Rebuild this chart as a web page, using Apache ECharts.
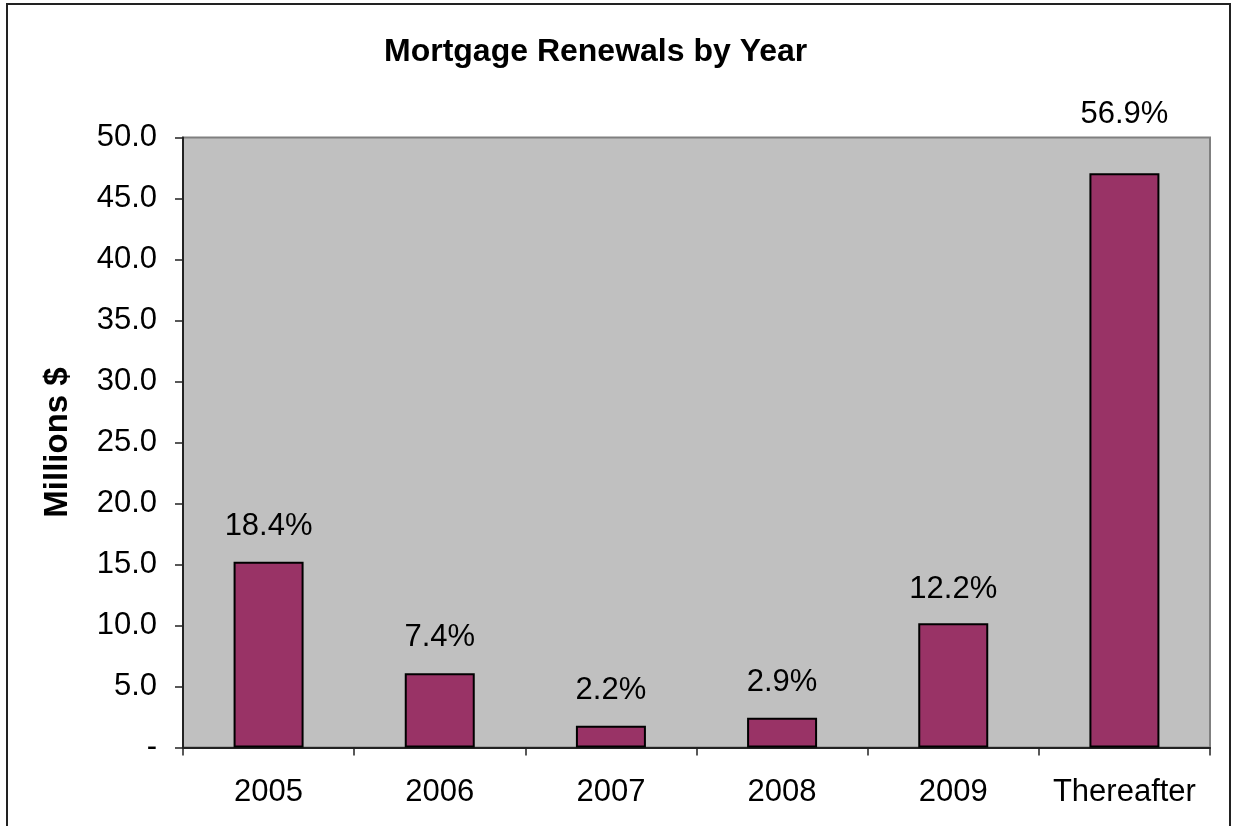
<!DOCTYPE html>
<html>
<head>
<meta charset="utf-8">
<script src="https://cdn.jsdelivr.net/npm/echarts@6/dist/echarts.min.js"></script>
<style>
html,body{margin:0;padding:0;background:#fff;}
#main{width:1233px;height:826px;}
</style>
</head>
<body>
<div id="main"></div>
<script>
const categories = ['2005', '2006', '2007', '2008', '2009', 'Thereafter'];
const values = [15.23, 6.08, 1.79, 2.44, 10.18, 47.07];
const pctLabels = ['18.4%', '7.4%', '2.2%', '2.9%', '12.2%', '56.9%'];
const labelDistances = [20, 20, 20, 20, 18, 43];
const yTicks = [0, 5, 10, 15, 20, 25, 30, 35, 40, 45, 50];

const FONT = '"Liberation Sans", Arial, sans-serif';
const chart = echarts.init(document.getElementById('main'));

const data = values.map((v, i) => ({
  value: v,
  label: { distance: labelDistances[i], formatter: pctLabels[i] }
}));

chart.setOption({
  animation: false,
  backgroundColor: '#ffffff',
  title: {
    text: 'Mortgage Renewals by Year',
    left: 379,
    top: 31,
    textStyle: { fontFamily: FONT, fontSize: 32, fontWeight: 'bold', color: '#000' }
  },
  graphic: [{
    type: 'rect',
    shape: { x: 7, y: 4, width: 1223, height: 840 },
    style: { fill: 'none', stroke: '#222', lineWidth: 2 },
    silent: true
  }],
  grid: {
    left: 183, right: 23, top: 137.5, bottom: 78.5,
    show: true, backgroundColor: '#C0C0C0', borderColor: '#808080', borderWidth: 2
  },
  xAxis: {
    type: 'category',
    data: categories,
    axisLine: { show: true, lineStyle: { color: '#222', width: 2 } },
    axisTick: { show: true, alignWithLabel: false, length: 8, lineStyle: { color: '#222', width: 1.5 } },
    axisLabel: { fontFamily: FONT, fontSize: 31, color: '#000', margin: 29, interval: 0 },
    splitLine: { show: false }
  },
  yAxis: {
    type: 'value',
    min: yTicks[0], max: yTicks[yTicks.length - 1], interval: 5,
    name: 'Millions $',
    nameLocation: 'middle',
    nameGap: 109,
    nameRotate: 90,
    nameTextStyle: { fontFamily: FONT, fontSize: 33, fontWeight: 'bold', color: '#000' },
    axisLine: { show: true, lineStyle: { color: '#222', width: 2 } },
    axisTick: { show: true, length: 8, lineStyle: { color: '#222', width: 1.5 } },
    axisLabel: {
      fontFamily: FONT, fontSize: 31, color: '#000', margin: 26,
      formatter: v => (v === 0 ? '-' : v.toFixed(1))
    },
    splitLine: { show: false }
  },
  series: [{
    type: 'bar',
    data: data,
    barWidth: 70,
    itemStyle: { color: '#993366', borderColor: '#000', borderWidth: 2 },
    label: {
      show: true, position: 'top',
      fontFamily: FONT, fontSize: 31, color: '#000'
    }
  }]
});
</script>
</body>
</html>
